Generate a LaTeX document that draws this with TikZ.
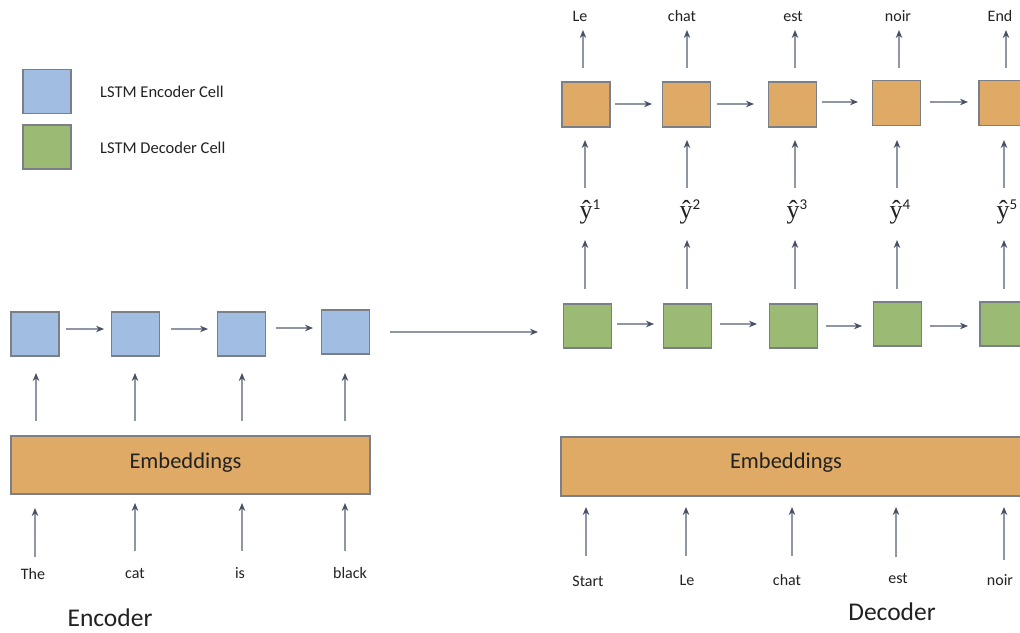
\documentclass[tikz,border=0pt]{standalone}
\usepackage{fontspec}
\setmainfont{Carlito}
\newfontfamily\yfont{Liberation Serif}
\usetikzlibrary{arrows.meta}
\definecolor{encblue}{HTML}{A2BDE2}
\definecolor{decgreen}{HTML}{9BBA73}
\definecolor{embor}{HTML}{DFAA66}
\definecolor{bordergray}{HTML}{7A7F88}
\definecolor{arrline}{HTML}{9097A4}
\definecolor{arrhead}{HTML}{475066}
\definecolor{txt}{HTML}{222222}
\newcommand{\yh}[1]{{\yfont ŷ}\raisebox{9pt}{\fontsize{15}{15}\selectfont #1}}
\tikzset{
  cell/.style={draw=bordergray, line width=1.2pt, minimum width=48pt, minimum height=44pt, inner sep=0pt},
  enccell/.style={cell, fill=encblue},
  deccell/.style={cell, fill=decgreen},
  outcell/.style={cell, fill=embor},
  embbox/.style={draw=bordergray, line width=1.2pt, fill=embor, inner sep=0pt},
  arr/.style={draw=arrline, line width=1.4pt, -{Stealth[length=8pt, width=6.5pt, color=arrhead]}},
  word/.style={font=\fontsize{16}{18}\selectfont, text=txt, inner sep=0pt},
  legtxt/.style={font=\fontsize{16.5}{18}\selectfont, text=txt, inner sep=0pt, anchor=west},
  embtxt/.style={font=\fontsize{22.5}{25}\selectfont, text=txt, inner sep=0pt},
  title/.style={font=\fontsize{25.5}{28}\selectfont, text=txt, inner sep=0pt},
  yhat/.style={font=\fontsize{26}{28}\selectfont, text=txt, inner sep=0pt}
}
\begin{document}
\begin{tikzpicture}[x=1pt,y=-1pt]
\clip (0,0) rectangle (1020,632);
\fill[white] (0,0) rectangle (1020,632);
% legend
\node[enccell] (legE) at (47,91.5) {};
\node[deccell] (legD) at (47,147) {};
\node[legtxt] (legEt) at (100,92) {LSTM Encoder Cell};
\node[legtxt] (legDt) at (100,148) {LSTM Decoder Cell};
% encoder
\node[enccell] (e1) at (35,334) {};
\node[enccell] (e2) at (135.5,334) {};
\node[enccell] (e3) at (241.5,334) {};
\node[enccell] (e4) at (345.5,332) {};
\node[embbox, minimum width=359pt, minimum height=58pt] (eemb) at (190.5,465) {};
\node[embtxt] (eembt) at (185.5,463) {Embeddings};
\node[word] (w1) at (33,574) {The};
\node[word] (w2) at (135,573) {cat};
\node[word] (w3) at (240,573) {is};
\node[word] (w4) at (350,573) {black};
\node[title] (enct) at (110,618) {Encoder};
% encoder arrows
\draw[arr] (66,329) -- (104,329);
\draw[arr] (171,329) -- (208,329);
\draw[arr] (276,328) -- (313,328);
\foreach \x in {36,135,242,345} {\draw[arr] (\x,421) -- (\x,373);}
\draw[arr] (35,557) -- (35,508);
\foreach \x in {135,242,345} {\draw[arr] (\x,551) -- (\x,503);}
% bridge
\draw[arr] (390,332) -- (538,332);
% decoder cells
\node[deccell] (d1) at (587.5,326) {};
\node[deccell] (d2) at (687.5,326) {};
\node[deccell] (d3) at (793.5,326) {};
\node[deccell] (d4) at (897.5,324) {};
\node[deccell] (d5) at (1004,324) {};
\foreach \a/\b/\y in {617/654/324, 720/757/324, 826/862/326, 930/968/326} {\draw[arr] (\a,\y) -- (\b,\y);}
% yhat
\node[yhat] (y1) at (590,212) {\yh{1}};
\node[yhat] (y2) at (690,212) {\yh{2}};
\node[yhat] (y3) at (797,212) {\yh{3}};
\node[yhat] (y4) at (900,212) {\yh{4}};
\node[yhat] (y5) at (1007,212) {\yh{5}};
\foreach \x in {585,687,795,897,1004} {\draw[arr] (\x,289) -- (\x,240);}
\foreach \x in {585,687,795,897,1004} {\draw[arr] (\x,188) -- (\x,140);}
% output cells
\node[outcell, minimum height=45pt] (o1) at (586,104.5) {};
\node[outcell, minimum height=45pt] (o2) at (686.5,104.5) {};
\node[outcell, minimum height=45pt] (o3) at (792.5,104.5) {};
\node[outcell, minimum height=45pt] (o4) at (896.5,103) {};
\node[outcell, minimum height=45pt] (o5) at (1003,103) {};
\foreach \a/\b/\y in {615/652/104, 717/754/104, 822/858/102, 930/968/102} {\draw[arr] (\a,\y) -- (\b,\y);}
\foreach \x in {583,687,795,899,1006} {\draw[arr] (\x,68) -- (\x,30);}
\node[word] (t1) at (580,16) {Le};
\node[word] (t2) at (682,16) {chat};
\node[word] (t3) at (793,16) {est};
\node[word] (t4) at (898,16) {noir};
\node[word] (t5) at (1000,16) {End};
% decoder embedding
\node[embbox, minimum width=480pt, minimum height=59pt] (demb) at (801,466.5) {};
\node[embtxt] (dembt) at (786,463) {Embeddings};
\foreach \x/\t in {586/556, 686/556, 792/556, 896/557, 1004/560} {\draw[arr] (\x,\t) -- (\x,507);}
\node[word] (s1) at (588,581) {Start};
\node[word] (s2) at (687,580) {Le};
\node[word] (s3) at (787,580) {chat};
\node[word] (s4) at (898,578) {est};
\node[word] (s5) at (1000,580) {noir};
\node[title] (dect) at (892,612) {Decoder};
\end{tikzpicture}
\end{document}
